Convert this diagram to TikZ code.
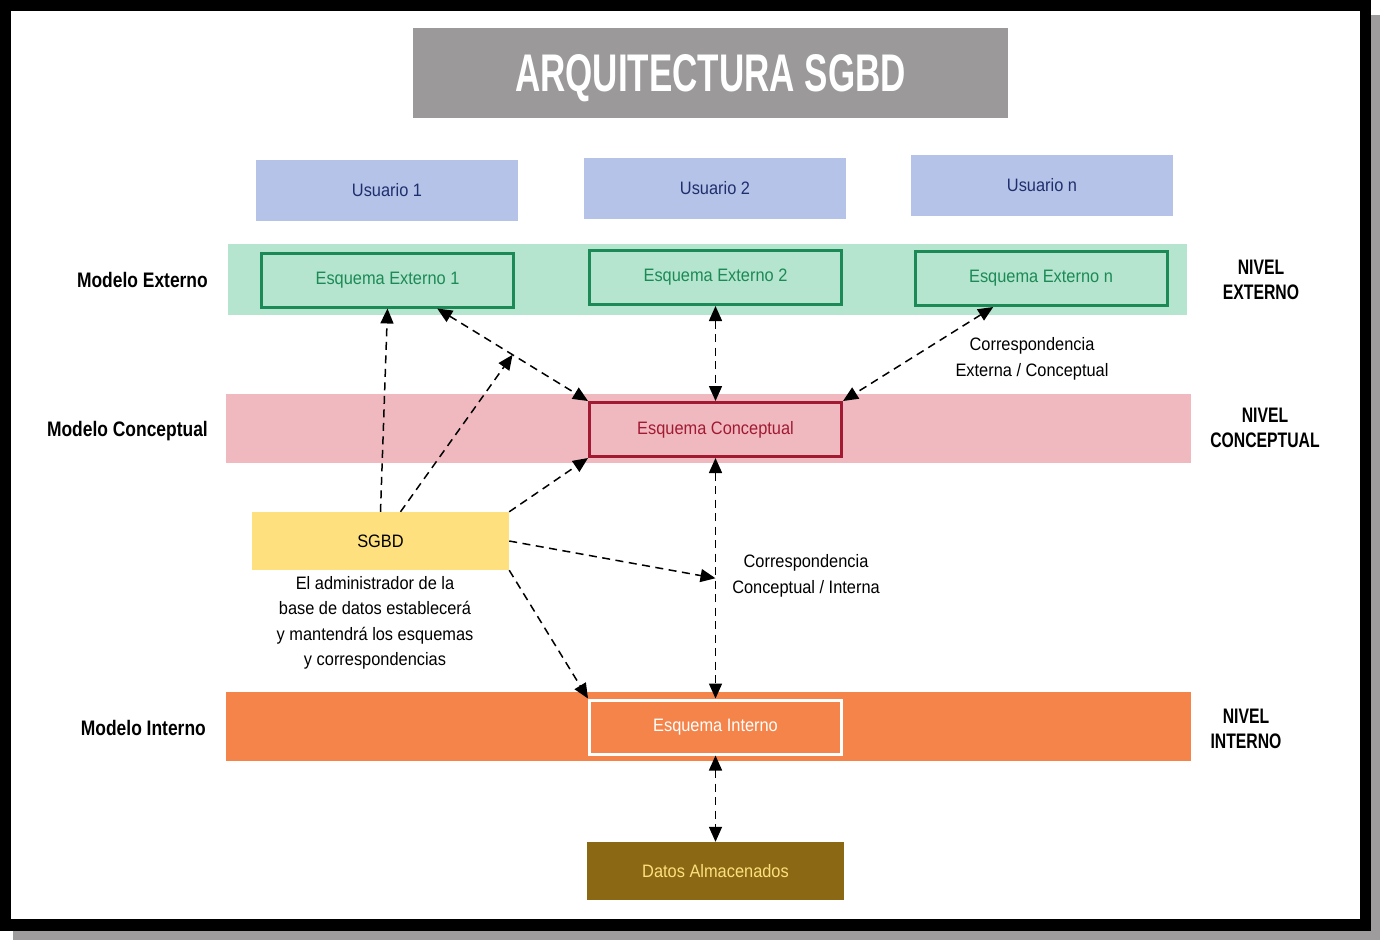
\documentclass[tikz,border=0pt]{standalone}
\usepackage{fontspec}
\setmainfont[FakeStretch=0.91]{Liberation Sans}
\newfontfamily\labfont[FakeStretch=0.83]{Liberation Sans}
\newfontfamily\capfont[FakeStretch=0.75]{Liberation Sans}
\newfontfamily\titlefont[FakeStretch=0.66]{Liberation Sans}
\usetikzlibrary{arrows.meta,calc}
\definecolor{titlegray}{HTML}{9B9999}
\definecolor{shadowgray}{HTML}{9E9C9C}
\definecolor{userfill}{HTML}{B4C3E7}
\definecolor{usertext}{HTML}{1F2F6E}
\definecolor{greenband}{HTML}{B5E5CE}
\definecolor{greenline}{HTML}{1B8A56}
\definecolor{pinkband}{HTML}{F0B9C0}
\definecolor{redline}{HTML}{A11A32}
\definecolor{orangeband}{HTML}{F5844A}
\definecolor{sgbdfill}{HTML}{FEE07F}
\definecolor{brownfill}{HTML}{8B6914}
\definecolor{browntext}{HTML}{FDE07E}
\tikzset{
  reg/.style={font=\fontsize{18}{26}\selectfont},
  band/.style={inner sep=0pt, outer sep=0pt},
  userbox/.style={reg, fill=userfill, text=usertext, minimum width=262, minimum height=61, inner sep=0pt},
  schema/.style={reg, line width=3pt, minimum width=252, minimum height=54, inner sep=0pt},
  solidbox/.style={reg, minimum width=257, minimum height=58, inner sep=0pt},
  modlab/.style={anchor=east, font=\labfont\bfseries\fontsize{21}{25}\selectfont, inner sep=0pt},
  nivlab/.style={align=center, font=\capfont\bfseries\fontsize{21}{25}\selectfont, inner sep=0pt},
  note/.style={reg, align=center, inner sep=0pt},
  >={Triangle[length=15pt,width=13pt]},
  conn/.style={line width=1.5pt, dash pattern=on 8pt off 5.5pt, ->},
  dconn/.style={line width=1.5pt, dash pattern=on 8pt off 5.5pt, <->}
}
\begin{document}
\begin{tikzpicture}[x=1pt,y=-1pt]
\useasboundingbox (0,0) rectangle (1380,940);
% frame
\fill[shadowgray] (13,15) rectangle (1380,940);
\fill[black] (0,0) rectangle (1371,931);
\fill[white] (11,11) rectangle (1360,919);
% title
\node[fill=titlegray, minimum width=595, minimum height=90, inner sep=0pt, text=white, text depth=0pt] (title) at (710.5,73) {\titlefont\bfseries\fontsize{53}{53}\selectfont ARQUITECTURA SGBD};
% users
\node[userbox] (u1) at (387,190.5) {Usuario 1};
\node[userbox] (u2) at (715,188.5) {Usuario 2};
\node[userbox] (u3) at (1042,185.5) {Usuario n};
% bands
\node[band, fill=greenband, minimum width=959, minimum height=71] (gb) at (707.5,279.5) {};
\node[band, fill=pinkband, minimum width=965, minimum height=69] (pb) at (708.5,428.5) {};
\node[band, fill=orangeband, minimum width=965, minimum height=69] (ob) at (708.5,726.5) {};
% schema boxes
\node[schema, draw=greenline, text=greenline] (e1) at (387.5,280) {Esquema Externo 1};
\node[schema, draw=greenline, text=greenline] (e2) at (715.5,277.5) {Esquema Externo 2};
\node[schema, draw=greenline, text=greenline] (en) at (1041,278.5) {Esquema Externo n};
\node[schema, draw=redline, text=redline] (ec) at (715.5,429.5) {Esquema Conceptual};
\node[schema, draw=white, text=white] (ei) at (715.5,727) {Esquema Interno};
\node[solidbox, fill=sgbdfill] (sgbd) at (380.5,541) {SGBD};
\node[solidbox, fill=brownfill, text=browntext] (datos) at (715.5,871) {Datos Almacenados};
% left labels
\node[modlab] (lme) at (208,280) {Modelo Externo};
\node[modlab] (lmc) at (208,431) {Modelo Conceptual};
\node[modlab] (lmi) at (206,728) {Modelo Interno};
% right labels
\node[nivlab] (lne) at (1261,280) {NIVEL\\EXTERNO};
\node[nivlab] (lnc) at (1265,428) {NIVEL\\CONCEPTUAL};
\node[nivlab] (lni) at (1246,729) {NIVEL\\INTERNO};
% notes
\node[note] (c1) at (1032,359) {Correspondencia\\Externa / Conceptual};
\node[note] (c2) at (806,575.5) {Correspondencia\\Conceptual / Interna};
\node[note, font=\fontsize{18}{25.5}\selectfont] (desc) at (375,623) {El administrador de la\\base de datos establecerá\\y mantendrá los esquemas\\y correspondencias};
% connector points
\coordinate (e1a) at ($(e1.south west)!0.695!(e1.south east)$);
\coordinate (m1) at ($(e1a)!0.5!(ec.north west)$);
\coordinate (ena) at ($(en.south west)!0.3125!(en.south east)$);
\coordinate (m2) at ($(ec.south)!0.5!(ei.north)$);
\coordinate (s2) at ($(sgbd.north)+(20,0)$);
% connectors
\draw[dconn] (e1a) -- (ec.north west);
\draw[conn] (sgbd.north) -- (e1.south);
\draw[conn] (s2) -- (m1);
\draw[conn] (sgbd.north east) -- (ec.south west);
\draw[dconn] (e2.south) -- (ec.north);
\draw[dconn] (ena) -- (ec.north east);
\draw[dconn] (ec.south) -- (ei.north);
\draw[conn] (sgbd.east) -- (m2);
\draw[conn] (sgbd.south east) -- (ei.north west);
\draw[dconn] (ei.south) -- (datos.north);
\end{tikzpicture}
\end{document}
